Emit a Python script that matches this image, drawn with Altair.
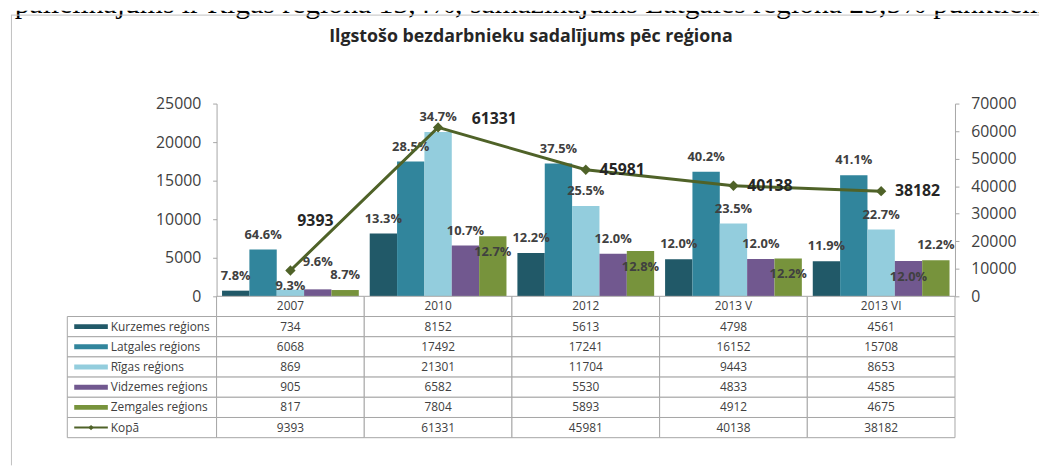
import altair as alt
import pandas as pd

# ---------------- data ----------------
categories = ["2007", "2010", "2012", "2013 V", "2013 VI"]
series = ["Kurzemes reģions", "Latgales reģions", "Rīgas reģions",
          "Vidzemes reģions", "Zemgales reģions"]
kurzeme = [734, 8152, 5613, 4798, 4561]
latgale = [6068, 17492, 17241, 16152, 15708]
riga = [869, 21301, 11704, 9443, 8653]
vidzeme = [905, 6582, 5530, 4833, 4585]
zemgale = [817, 7804, 5893, 4912, 4675]
total = [9393, 61331, 45981, 40138, 38182]
total_name = "Kopā"

pct_kurzeme = ["7.8%", "13.3%", "12.2%", "12.0%", "11.9%"]
pct_latgale = ["64.6%", "28.5%", "37.5%", "40.2%", "41.1%"]
pct_riga = ["9.3%", "34.7%", "25.5%", "23.5%", "22.7%"]
pct_vidzeme = ["9.6%", "10.7%", "12.0%", "12.0%", "12.0%"]
pct_zemgale = ["8.7%", "12.7%", "12.8%", "12.2%", "12.2%"]

left_ticks = [0, 5000, 10000, 15000, 20000, 25000]
right_ticks = [0, 10000, 20000, 30000, 40000, 50000, 60000, 70000]

title_text = "Ilgstošo bezdarbnieku sadalījums pēc reģiona"
doc_text = ("a palielinājums ir Rīgas reģiona 13,4%, samazinājums "
            "Latgales reģiona 23,5% punktiem")

# label placement as seen in the reference (style, not data)
label_high = [("Vidzemes reģions", "2007")]
label_low = [("Rīgas reģions", "2007")]
label_inside = [("Zemgales reģions", "2010"), ("Zemgales reģions", "2012"),
                ("Zemgales reģions", "2013 V"), ("Vidzemes reģions", "2013 VI")]

colors = ["#215968", "#31859c", "#93cddd", "#71588f", "#77933c"]
line_color = "#4f6228"
frame_color = "#c0c0c0"
grid_color = "#a6a6a6"
text_color = "#404040"
FONT = "Open Sans"

# ---------------- tables ----------------
values = [kurzeme, latgale, riga, vidzeme, zemgale]
pcts = [pct_kurzeme, pct_latgale, pct_riga, pct_vidzeme, pct_zemgale]
bar_rows = []
for s, vals, pc in zip(series, values, pcts):
    for c, v, p in zip(categories, vals, pc):
        key = (s, c)
        place = ("high" if key in label_high else "low" if key in label_low
                 else "inside" if key in label_inside else "above")
        bar_rows.append({"cat": c, "series": s, "value": v, "pct": p, "place": place})
bar_df = pd.DataFrame(bar_rows)
tot_df = pd.DataFrame({"cat": categories, "total": total})

rows = ["hdr"] + series + [total_name]
tbl_rows = []
for i, c in enumerate(categories):
    tbl_rows.append({"cat": c, "row": "hdr", "txt": c})
    for s, vals in zip(series, values):
        tbl_rows.append({"cat": c, "row": s, "txt": str(vals[i])})
    tbl_rows.append({"cat": c, "row": total_name, "txt": str(total[i])})
tbl_df = pd.DataFrame(tbl_rows)
lab_df = pd.DataFrame({"row": series + [total_name]})
sw_df = pd.DataFrame({"row": series})
kopa_df = pd.DataFrame({"row": [total_name]})

# ---------------- main chart ----------------
x_scale = alt.Scale(domain=categories, paddingInner=0.074, paddingOuter=0.037)
x_enc = alt.X("cat:N", sort=categories, scale=x_scale, axis=None)
xoff = alt.XOffset("series:N", sort=series,
                   scale=alt.Scale(domain=series, paddingInner=0, paddingOuter=0))
color = alt.Color("series:N", scale=alt.Scale(domain=series, range=colors), legend=None)
y_left = alt.Y("value:Q", scale=alt.Scale(domain=[0, 25000], nice=False),
               axis=alt.Axis(values=left_ticks, format="d", title=None, grid=False,
                             labelFont=FONT, labelFontSize=16, labelColor=text_color,
                             domainColor=grid_color, tickColor=grid_color, tickSize=4,
                             labelPadding=12))
bars = alt.Chart(bar_df).mark_bar().encode(x=x_enc, xOffset=xoff, y=y_left, color=color)


def pct_layer(place, dy):
    return alt.Chart(bar_df).transform_filter(alt.datum.place == place).mark_text(
        dy=dy, fontWeight="bold", fontSize=13, font=FONT, color=text_color).encode(
        x=x_enc, xOffset=xoff, y=y_left, text="pct:N")


bar_lbl = alt.layer(pct_layer("above", -15), pct_layer("high", -28),
                    pct_layer("low", -4), pct_layer("inside", 16))

y_right = alt.Y("total:Q", scale=alt.Scale(domain=[0, 70000], nice=False),
                axis=alt.Axis(orient="right", values=right_ticks, format="d", title=None,
                              grid=False, labelFont=FONT, labelFontSize=16,
                              labelColor=text_color, domainColor=grid_color,
                              tickColor=grid_color, tickSize=4, labelPadding=12))
line = alt.Chart(tot_df).mark_line(color=line_color, strokeWidth=3).encode(x=x_enc, y=y_right)
pts = alt.Chart(tot_df).mark_point(shape="diamond", filled=True, size=110, opacity=1,
                                   color=line_color).encode(x=x_enc, y=y_right)


def tot_layer(flt, dx, dy):
    return alt.Chart(tot_df).transform_filter(flt).mark_text(
        align="left", dx=dx, dy=dy, fontWeight="bold", fontSize=16, font=FONT,
        color="#262626").encode(x=x_enc, y=y_right, text="total:Q")


tot_lbl = alt.layer(
    tot_layer(alt.datum.cat == categories[0], 7, -50),
    tot_layer(alt.datum.cat == categories[1], 34, -8),
    tot_layer((alt.datum.cat != categories[0]) & (alt.datum.cat != categories[1]), 14, 0),
)

main = alt.layer(alt.layer(bars, bar_lbl), alt.layer(line, pts, tot_lbl)).resolve_scale(
    y="independent").properties(width=747, height=195)

# ---------------- data table ----------------
tx = alt.X("cat:N", sort=categories,
           scale=alt.Scale(domain=categories, paddingInner=0, paddingOuter=0), axis=None)
ty = alt.Y("row:N", sort=rows, scale=alt.Scale(domain=rows, paddingInner=0, paddingOuter=0),
           axis=None)
cells = alt.Chart(tbl_df).mark_rect(fill="white", stroke=grid_color, strokeWidth=1).encode(
    x=tx, y=ty)
cell_txt = alt.Chart(tbl_df).mark_text(font=FONT, fontSize=12, color=text_color).encode(
    x=tx, y=ty, text="txt:N")
table = alt.layer(cells, cell_txt).properties(width=747, height=143)

lcells = alt.Chart(lab_df).mark_rect(fill="white", stroke=grid_color, strokeWidth=1).encode(
    x=alt.value(57), x2=alt.value(208), y=ty)
swatch = alt.Chart(sw_df).mark_rule(strokeWidth=5).encode(
    x=alt.value(64), x2=alt.value(98), y=ty,
    color=alt.Color("row:N", scale=alt.Scale(domain=series, range=colors), legend=None))
kopa_line = alt.Chart(kopa_df).mark_rule(strokeWidth=2, color=line_color).encode(
    x=alt.value(64), x2=alt.value(98), y=ty)
kopa_pt = alt.Chart(kopa_df).mark_point(shape="diamond", filled=True, size=30, opacity=1,
                                        color=line_color).encode(x=alt.value(81), y=ty)
ltxt = alt.Chart(lab_df).mark_text(align="left", font=FONT, fontSize=12,
                                   color=text_color).encode(
    x=alt.value(101), y=ty, text="row:N")
labels = alt.layer(lcells, swatch, kopa_line, kopa_pt, ltxt).properties(width=208, height=143)

spacer = alt.Chart(pd.DataFrame({"v": [0]})).mark_point(opacity=0).encode(
    x=alt.value(0), y=alt.value(0)).properties(width=208, height=195)

# ---------------- header (document line, frame, title) ----------------
doc = alt.Chart(pd.DataFrame({"t": [doc_text]})).mark_text(
    font="Liberation Serif", fontSize=30, align="left", baseline="alphabetic", clip=True,
    color="black").encode(x=alt.value(-17), y=alt.value(2), text="t:N")
frame_top = alt.Chart(pd.DataFrame({"v": [0]})).mark_rule(color=frame_color).encode(
    x=alt.value(0), x2=alt.value(1040), y=alt.value(4.5))
frame_left = alt.Chart(pd.DataFrame({"v": [0]})).mark_rule(color=frame_color).encode(
    x=alt.value(0.5), y=alt.value(4.5), y2=alt.value(460))
ttl = alt.Chart(pd.DataFrame({"t": [title_text]})).mark_text(
    font=FONT, fontSize=18, fontWeight="bold", color="#262626", align="center",
    baseline="middle").encode(x=alt.value(526), y=alt.value(27), text="t:N")
top = alt.layer(doc, frame_top, frame_left, ttl).properties(width=1040, height=94)

grid = alt.concat(spacer, main, labels, table, columns=2, spacing=0, bounds="flush")
chart = (alt.vconcat(top, grid, spacing=0, bounds="flush")
         .properties(padding=0)
         .configure(font=FONT)
         .configure_view(stroke="transparent", strokeWidth=0))

chart.save("out.html", embed_options={"renderer": "svg", "actions": False})
